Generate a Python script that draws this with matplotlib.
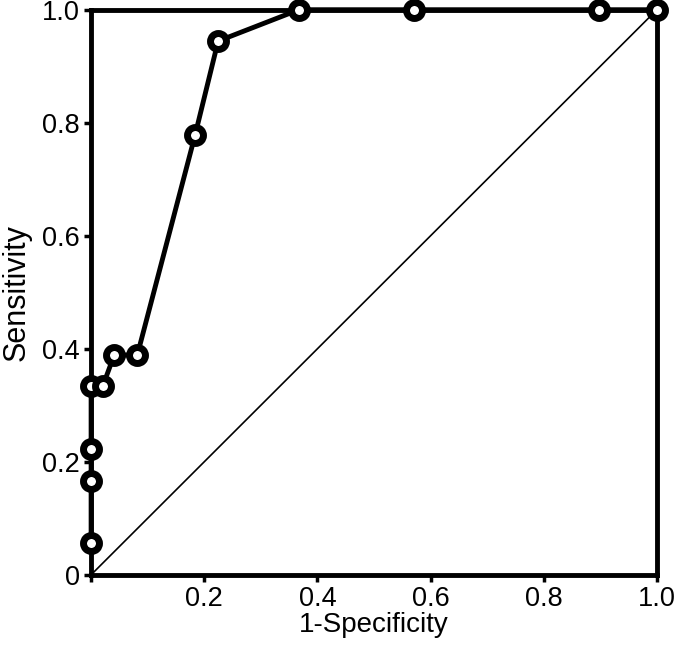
import numpy as np
import matplotlib.pyplot as plt

plt.rcParams['font.family'] = ['Liberation Sans', 'DejaVu Sans']

# ROC points
fpr = [0, 0, 0, 0, 1/49, 2/49, 4/49, 9/49, 11/49, 18/49, 28/49, 44/49, 1.0]
tpr = [1/18, 3/18, 4/18, 6/18, 6/18, 7/18, 7/18, 14/18, 17/18, 1.0, 1.0, 1.0, 1.0]

xticks = [0, 0.2, 0.4, 0.6, 0.8, 1.0]
xticklabels = ["", "0.2", "0.4", "0.6", "0.8", "1.0"]
yticks = [0, 0.2, 0.4, 0.6, 0.8, 1.0]
yticklabels = ["0", "0.2", "0.4", "0.6", "0.8", "1.0"]

fig = plt.figure(figsize=(6.85, 6.48), dpi=100)
ax = fig.add_axes([0.133, 0.113, 0.826, 0.872])

ax.plot([0, 1], [0, 1], color='black', lw=1.2)
ax.plot(fpr, tpr, color='black', lw=3.5, marker='o', markersize=11.5,
        markerfacecolor='white', markeredgecolor='black', markeredgewidth=5,
        clip_on=False, zorder=5)

ax.set_xlim(0, 1)
ax.set_ylim(0, 1)
ax.set_xticks(xticks)
ax.set_xticklabels(xticklabels)
ax.set_yticks(yticks)
ax.set_yticklabels(yticklabels)
for s in ax.spines.values():
    s.set_linewidth(3.5)
ax.tick_params(direction='out', length=5, width=2.5, labelsize=19.5, pad=3)
ax.set_xlabel("1-Specificity", fontsize=20, labelpad=0)
fig.text(0.003, 0.549, "Sensitivity", fontsize=22, rotation=90,
         ha='left', va='center')

fig.savefig("out.png", dpi=100)
